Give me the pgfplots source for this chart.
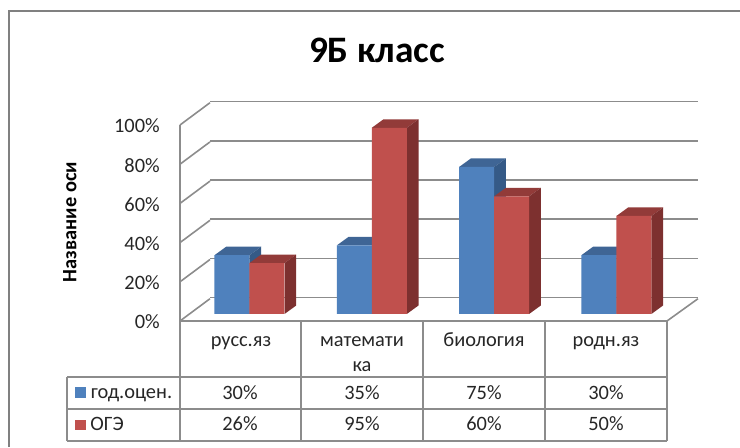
\documentclass[border=0pt]{standalone}
\usepackage{fontspec}
\setmainfont{Carlito}
\usepackage{pgfplots}
\pgfplotsset{compat=1.18}
\definecolor{blueF}{HTML}{4F81BD}
\definecolor{blueT}{HTML}{3F6595}
\definecolor{blueS}{HTML}{355A87}
\definecolor{redF}{HTML}{C0504D}
\definecolor{redT}{HTML}{923B39}
\definecolor{redS}{HTML}{7D302F}
\definecolor{gridc}{HTML}{8C8C8C}
\definecolor{framec}{HTML}{808080}
\newcommand\fs[1]{\fontsize{#1}{#1}\selectfont}
% depth faces of one bar: left edge, right edge, value, top colour, side colour
\newcommand\depthfaces[5]{%
  \pgfmathsetmacro\xa{#1}\pgfmathsetmacro\xb{#2}%
  \pgfmathsetmacro\xc{#1+0.0957}\pgfmathsetmacro\xd{#2+0.0957}%
  \pgfmathsetmacro\vt{#3+4.34}%
  \edef\tmp{\noexpand\addplot[fill=#4,draw=none,forget plot] coordinates {(\xa,#3) (\xb,#3) (\xd,\vt) (\xc,\vt)} --cycle;
  \noexpand\addplot[fill=#5,draw=none,forget plot] coordinates {(\xb,0) (\xd,4.34) (\xd,\vt) (\xb,#3)} --cycle;}%
  \tmp}
\begin{document}
\begin{tikzpicture}
\path[use as bounding box] (0,0) rectangle (555pt,335.25pt);
% back wall with value axis
\begin{axis}[
  at={(157.5pt,111.975pt)},anchor=south west,
  scale only axis,width=366pt,height=147pt,
  xmin=0,xmax=1,ymin=0,ymax=100,clip=false,
  axis line style={draw=none},major tick length=0pt,
  xtick=\empty,ytick={0,20,40,60,80,100},
  yticklabels={0\%,20\%,40\%,60\%,80\%,100\%},
  yticklabel style={anchor=east,inner sep=0pt,xshift=-37.5pt,yshift=-18.2pt,font=\fs{15.3},text=black!85},
  ymajorgrids,grid style={color=gridc,line width=1.2pt},
  title={9Б класс},
  title style={at={(axis description cs:0.342,1.2200)},anchor=center,font=\fs{28}\bfseries,inner sep=0pt},
  ylabel={Название оси},
  ylabel style={at={(axis description cs:-0.287,0.386)},anchor=center,font=\fs{15.3}\bfseries,inner sep=0pt},
]
\addplot[draw=none,forget plot] coordinates {(0,0) (1,100)};
\end{axis}
\begin{scope}[x=0.75pt,y=-0.75pt,yshift=335.25pt]
  % chart frame
  \draw[framec,line width=1.7pt] (9,447) -- (9,11) -- (740,11);
  % left wall and floor
  \foreach \yy in {0,39.2,78.4,117.6,156.8,196}{
    \draw[gridc,line width=1.2pt] (180,321-\yy) -- (210,298.7-\yy);}
  \draw[gridc,line width=1.2pt] (180,125) -- (180,321);
  \draw[gridc,line width=1.2pt] (667,321) -- (698,298.7);
  % data table grid
  \draw[gridc,line width=1.4pt] (180,321) -- (667,321);
  \foreach \xx in {180,301,423,545,667}{\draw[gridc,line width=1.4pt] (\xx,321) -- (\xx,441);}
  \draw[gridc,line width=1.4pt] (67,377) -- (667,377) (67,409) -- (667,409) (67,441) -- (667,441);
  \draw[gridc,line width=1.4pt] (67,377) -- (67,441);
  % table text
  \tikzset{cell/.style={font=\fs{15.3},text=black!85,inner sep=0pt,anchor=base},
           lcell/.style={font=\fs{15.3},text=black!85,inner sep=0pt,anchor=base west}}
  \node[cell] at (241,347) {русс.яз};
  \node[cell] at (362,347) {математи};
  \node[cell] at (362,372) {ка};
  \node[cell] at (484,347) {биология};
  \node[cell] at (606,347) {родн.яз};
  \fill[blueF] (75,387) rectangle (86,398);
  \fill[redF] (75,420) rectangle (86,430);
  \node[lcell] at (90.5,398.5) {год.оцен.};
  \node[lcell] at (90,430.5) {ОГЭ};
  \node[cell] at (240,399) {30\%};
  \node[cell] at (362,399) {35\%};
  \node[cell] at (484,399) {75\%};
  \node[cell] at (606,399) {30\%};
  \node[cell] at (240,430.5) {26\%};
  \node[cell] at (362,430.5) {95\%};
  \node[cell] at (484,430.5) {60\%};
  \node[cell] at (606,430.5) {50\%};
\end{scope}
% bars
\begin{axis}[
  at={(141.26pt,99.75pt)},anchor=south west,
  scale only axis,width=366.9pt,height=147pt,
  xmin=-0.5,xmax=3.5,ymin=0,ymax=100,clip=false,
  axis lines=none,
]
\depthfaces{-0.2862}{0}{30}{blueT}{blueS}
\depthfaces{0.7138}{1}{35}{blueT}{blueS}
\depthfaces{1.7138}{2}{75}{blueT}{blueS}
\depthfaces{2.7138}{3}{30}{blueT}{blueS}
\addplot[ybar,bar width=26.25pt,bar shift=-13.125pt,fill=blueF,draw=none]
  coordinates {(0,30) (1,35) (2,75) (3,30)};
\depthfaces{0}{0.2862}{26}{redT}{redS}
\depthfaces{1}{1.2862}{95}{redT}{redS}
\depthfaces{2}{2.2862}{60}{redT}{redS}
\depthfaces{3}{3.2862}{50}{redT}{redS}
\addplot[ybar,bar width=26.25pt,bar shift=13.125pt,fill=redF,draw=none]
  coordinates {(0,26) (1,95) (2,60) (3,50)};
\end{axis}
\end{tikzpicture}
\end{document}
